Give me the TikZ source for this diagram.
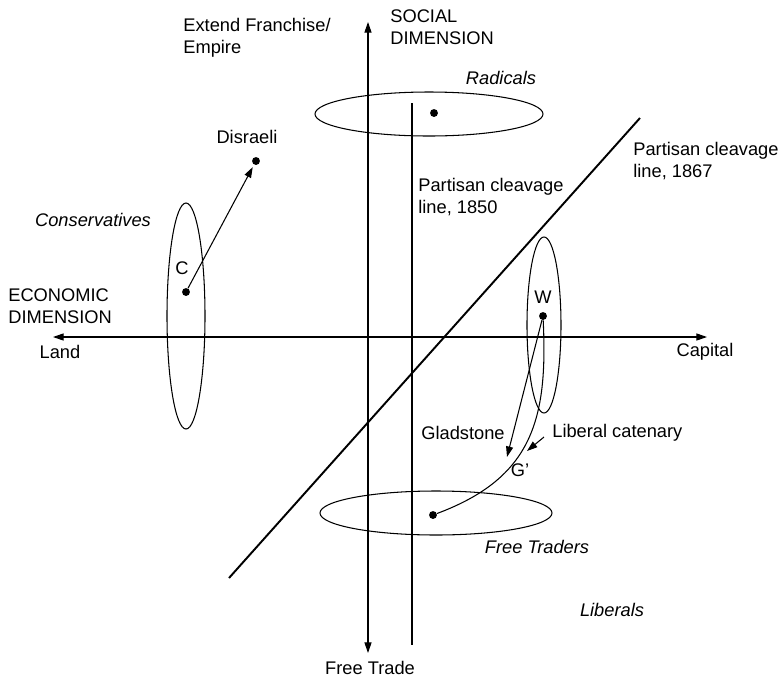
\documentclass[tikz,border=0pt]{standalone}
\usepackage{fontspec}
\setmainfont{Liberation Sans}
\usetikzlibrary{arrows.meta}

\begin{document}
\begin{tikzpicture}[x=0.02cm,y=-0.02cm,>={Triangle[length=6pt,width=4pt]},
  lbl/.style={font=\fontsize{10.4}{12.5}\selectfont,inner sep=0pt,align=left},
  party/.style={lbl,font=\fontsize{10.4}{12.5}\selectfont\itshape},
  dot/.style={circle,fill,inner sep=0pt,minimum size=4.5pt},
  axis/.style={line width=0.6pt},
  cleave/.style={line width=1.1pt},
  group/.style={line width=0.6pt}]
\useasboundingbox (0,0) rectangle (782,677);
% axes
\coordinate (land) at (53,337);
\coordinate (capital) at (707,337);
\coordinate (empire) at (368,22);
\coordinate (trade) at (368,653);
\draw[axis,<->] (land) -- (capital);
\draw[axis,<->] (empire) -- (trade);
% cleavage lines
\coordinate (c50a) at (412,103);
\coordinate (c50b) at (412,645);
\coordinate (c67a) at (640,118);
\coordinate (c67b) at (229,578);
\draw[cleave] (c50a) -- (c50b);
\draw[cleave] (c67a) -- (c67b);
% party groups
\draw[group] (429,114) ellipse (114 and 22);
\draw[group] (436,513) ellipse (116 and 22);
\draw[group] (186,316) ellipse (19 and 113);
\draw[group] (544,325) ellipse (17 and 88);
% positions
\node[dot] (rad) at (434,113) {};
\node[dot] (ft) at (433,515) {};
\node[dot] (c) at (186,292) {};
\node[dot] (w) at (543,316) {};
\node[dot] (dis) at (256,161) {};
\coordinate (glad) at (507,457);
\coordinate (cattip) at (527,451);
\coordinate (catfrom) at (544,437);
\draw[->,axis,shorten >=1.5pt] (c) -- (dis);
\draw[->,axis] (w) -- (glad);
\draw[axis] (w) .. controls (548,420) and (532,478) .. (ft);
\draw[->,axis] (catfrom) -- (cattip);
% labels
\node[lbl,anchor=west] at (183,37.5) {Extend Franchise/\\Empire};
\node[lbl,anchor=west] at (390,27.5) {SOCIAL\\DIMENSION};
\node[party] at (501,78) {Radicals};
\node[lbl] at (247,137) {Disraeli};
\node[lbl,anchor=west] at (418,197) {Partisan cleavage\\line, 1850};
\node[lbl,anchor=west] at (633,161) {Partisan cleavage\\line, 1867};
\node[party] at (93,220) {Conservatives};
\node[lbl] at (182,268) {C};
\node[lbl,anchor=west] at (8,306) {ECONOMIC\\DIMENSION};
\node[lbl] at (60,352) {Land};
\node[lbl] at (705,352) {Capital};
\node[lbl] at (543,297) {W};
\node[lbl] at (463,433) {Gladstone};
\node[lbl,anchor=west] at (552,433) {Liberal catenary};
\node[lbl] at (520,470) {G'};
\node[party] at (537,547) {Free Traders};
\node[party] at (612,610) {Liberals};
\node[lbl] at (370,668) {Free Trade};
\end{tikzpicture}
\end{document}
